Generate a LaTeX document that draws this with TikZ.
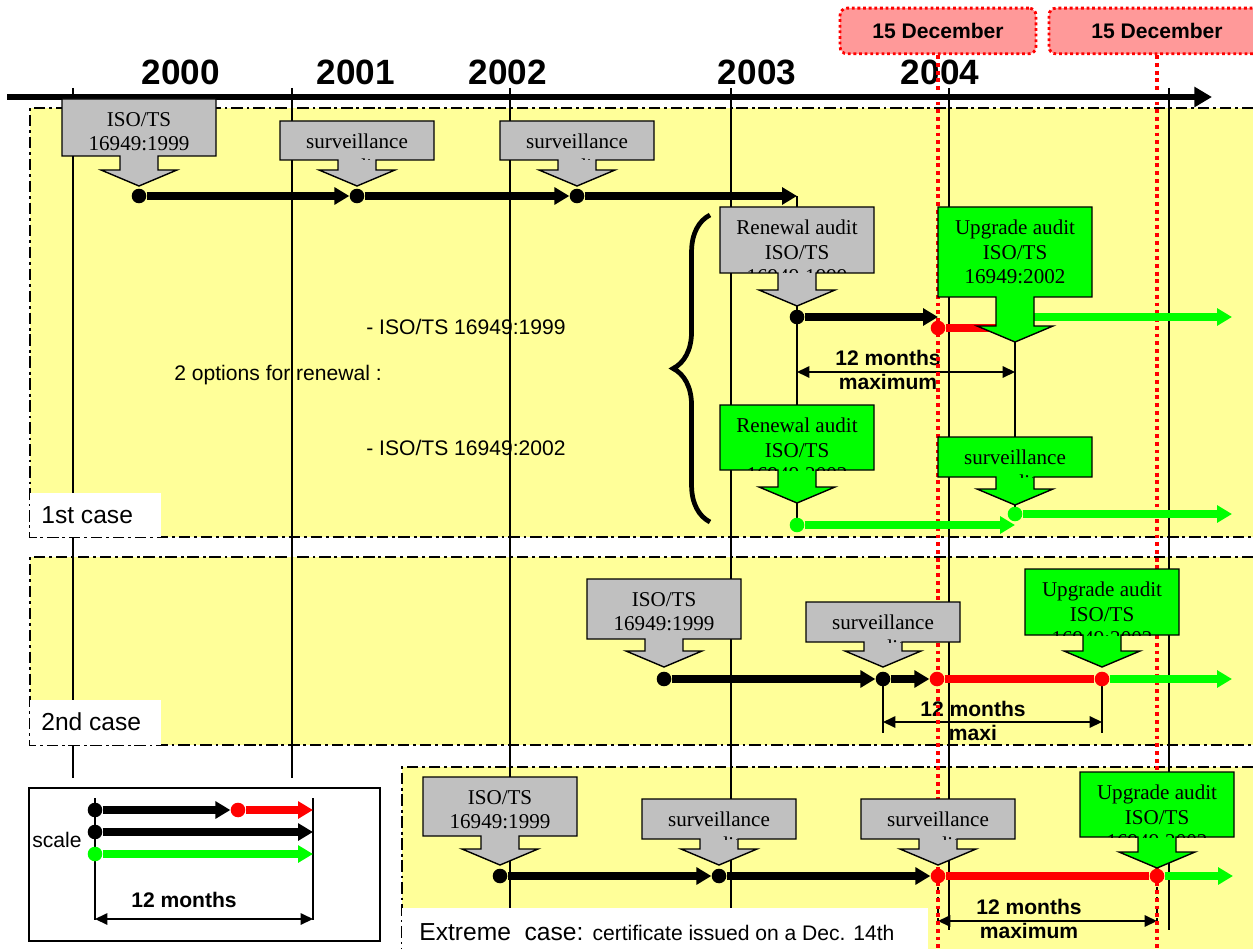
\documentclass[tikz,border=0pt]{standalone}
\usepackage{fontspec}
\setmainfont{Liberation Sans}
\newfontfamily\seriffont{Liberation Serif}
\usetikzlibrary{arrows.meta,decorations.pathreplacing}
\definecolor{panelyellow}{HTML}{FFFF99}
\definecolor{auditgray}{HTML}{C0C0C0}
\definecolor{auditgreen}{HTML}{00FF00}
\definecolor{decpink}{HTML}{FF9999}

\begin{document}
\begin{tikzpicture}[x=0.02cm, y=-0.02cm,
    border/.style={line width=1.1pt, dash pattern=on 6.5pt off 2.2pt on 1.6pt off 2.2pt},
    yearline/.style={line width=0.8pt},
    decline/.style={red, line width=2.2pt, dash pattern=on 2.2pt off 2.2pt},
    prog/.style={line width=4pt, -{Triangle[length=8.5pt,width=9.5pt]}},
    dot/.style={circle, inner sep=0pt, minimum size=8.3pt},
    dim/.style={line width=0.8pt, {Triangle[length=7pt,width=6.5pt]}-{Triangle[length=7pt,width=6.5pt]}},
    audittext/.style={font=\seriffont\fontsize{12}{13.8}\selectfont, align=center, inner sep=0pt},
    calloutline/.style={draw=black, line width=0.8pt},
    yearlabel/.style={font=\fontsize{20}{24}\selectfont\bfseries},
    dimtext/.style={font=\fontsize{12}{13.6}\selectfont\bfseries, align=center},
    plain/.style={font=\fontsize{12}{14}\selectfont, inner sep=0pt},
    casetext/.style={font=\fontsize{14}{16}\selectfont, anchor=west, inner sep=0pt},
    decbox/.style={draw=red, fill=decpink, rounded corners=4pt, line width=1.6pt, dash pattern=on 1.6pt off 1.6pt, minimum height=26pt, font=\fontsize{12}{14}\selectfont\bfseries}]
    \useasboundingbox (0,0) rectangle (1253,949);

    \def\audit#1#2#3#4#5#6#7{%
      \filldraw[calloutline, fill=#2] (#3-77,#4) -- (#3+77,#4) -- (#3+77,#5) -- (#3+19,#5) -- (#3+19,#6-16) -- (#3+38,#6-16) -- (#3,#6) -- (#3-38,#6-16) -- (#3-19,#6-16) -- (#3-19,#5) -- (#3-77,#5) -- cycle;
      \begin{scope}
        \clip (#3-77,#4) rectangle (#3+77,#5);
        \node[audittext, anchor=north] (#1) at (#3,#4+13) {#7};
      \end{scope}}

    \fill[panelyellow] (30,108) rectangle (1253,537);
    \fill[panelyellow] (30,557) rectangle (1253,745);
    \fill[panelyellow] (402,767) rectangle (1253,949);
    \draw[border] (1253,108) -- (30,108) -- (30,537) -- (1253,537);
    \draw[border] (1253,557) -- (30,557) -- (30,745) -- (1253,745);
    \draw[border] (1253,767) -- (402,767) -- (402,949);

    \foreach \xpos/\yend in {73/778, 292/778, 510/930, 731/930, 949/930, 1169/930} {
      \draw[yearline] (\xpos,88) -- (\xpos,\yend);
    }
    \foreach \yr/\xpos in {2000/181, 2001/356, 2002/508, 2003/757, 2004/940} {
      \node[yearlabel] (y\yr) at (\xpos,72) {\yr};
    }

    \node[plain, anchor=west] (opt1999) at (366,327) {- ISO/TS 16949:1999};
    \node[plain, anchor=west] (options) at (174,375) {2 options for renewal :};
    \node[plain, anchor=west] (opt2002) at (366,448) {- ISO/TS 16949:2002};
    \draw[decorate, decoration={brace, amplitude=21pt}, line width=2.7pt] (710,522) -- (710,215);

    \draw[yearline] (797,196) -- (797,525);
    \draw[yearline] (1015,342) -- (1015,514);
    \coordinate (m1a) at (797,372);
    \coordinate (m1b) at (1015,372);
    \draw[dim] (m1a) -- (m1b);
    \node[dimtext] (dim1) at (888,370) {12 months\\maximum};

    \draw[yearline] (883,679) -- (883,733);
    \draw[yearline] (1102,679) -- (1102,733);
    \coordinate (m2a) at (883,722);
    \coordinate (m2b) at (1102,722);
    \draw[dim] (m2a) -- (m2b);
    \node[dimtext] (dim2) at (973,721) {12 months\\maxi};

    \draw[yearline, dashed] (938,876) -- (938,931);
    \draw[yearline, dashed] (1157,876) -- (1157,933);
    \coordinate (m3a) at (938,921);
    \coordinate (m3b) at (1157,921);
    \draw[dim] (m3a) -- (m3b);
    \node[dimtext] (dim3) at (1029,919) {12 months\\maximum};

    \node[decbox, minimum width=111.5pt] (dec1) at (938,31) {15 December};
    \node[decbox, minimum width=123pt] (dec2) at (1157,31) {15 December};
    \coordinate (dec1end) at (938,949);
    \coordinate (dec2end) at (1157,949);
    \draw[decline] (dec1) -- (dec1end);
    \draw[decline] (dec2) -- (dec2end);

    \coordinate (tl0) at (7,97);
    \coordinate (tl1) at (1212,97);
    \draw[line width=3.2pt, -{Triangle[length=10pt,width=11pt]}] (tl0) -- (tl1);

    \node[dot, fill=black] (a1) at (139,196) {};
    \node[dot, fill=black] (a2) at (357,196) {};
    \node[dot, fill=black] (a3) at (577,196) {};
    \coordinate (a4) at (797,196);
    \draw[prog] (a1) -- (a2);
    \draw[prog] (a2) -- (a3);
    \draw[prog] (a3) -- (a4);

    \node[dot, fill=black] (b1) at (797,317) {};
    \node[dot, fill=red] (b2) at (938,328) {};
    \coordinate (b3) at (1015,328);
    \coordinate (b4) at (1015,317);
    \coordinate (b5) at (1232,317);
    \draw[prog] (b1) -- (b1 -| b2);
    \draw[prog, red, -] (b2) -- (b3);
    \draw[prog, auditgreen] (b4) -- (b5);

    \node[dot, fill=auditgreen] (c1) at (797,525) {};
    \node[dot, fill=auditgreen] (c2) at (1015,514) {};
    \coordinate (c3) at (1232,514);
    \draw[prog, auditgreen] (c1) -- (c1 -| c2);
    \draw[prog, auditgreen] (c2) -- (c3);

    \node[dot, fill=black] (k1) at (664,679) {};
    \node[dot, fill=black] (k2) at (883,679) {};
    \node[dot, fill=red] (k3) at (937,679) {};
    \node[dot, fill=red] (k4) at (1102,679) {};
    \coordinate (k5) at (1232,679);
    \draw[prog] (k1) -- (k2);
    \draw[prog] (k2) -- (k3);
    \draw[prog, red, -] (k3) -- (k4);
    \draw[prog, auditgreen] (k4) -- (k5);

    \node[dot, fill=black] (x1) at (500,876) {};
    \node[dot, fill=black] (x2) at (719,876) {};
    \node[dot, fill=red] (x3) at (938,876) {};
    \node[dot, fill=red] (x4) at (1157,876) {};
    \coordinate (x5) at (1233,876);
    \draw[prog] (x1) -- (x2);
    \draw[prog] (x2) -- (x3);
    \draw[prog, red, -] (x3) -- (x4);
    \draw[prog, auditgreen] (x4) -- (x5);

    \audit{iso1}{auditgray}{139}{99}{156}{186}{ISO/TS\\16949:1999}
    \audit{surv1}{auditgray}{357}{121}{160}{186}{surveillance\\audit}
    \audit{surv2}{auditgray}{577}{121}{160}{186}{surveillance\\audit}
    \audit{renew1}{auditgray}{797}{207}{273}{306}{Renewal audit\\ISO/TS\\16949:1999}
    \audit{upgrade1}{auditgreen}{1015}{207}{297}{342}{Upgrade audit\\ISO/TS\\16949:2002}
    \audit{renew2}{auditgreen}{797}{405}{470}{503}{Renewal audit\\ISO/TS\\16949:2002}
    \audit{surv3}{auditgreen}{1015}{437}{477}{505}{surveillance\\audit}
    \audit{iso2}{auditgray}{664}{579}{639}{667}{ISO/TS\\16949:1999}
    \audit{surv4}{auditgray}{883}{602}{642}{667}{surveillance\\audit}
    \audit{upgrade2}{auditgreen}{1102}{569}{635}{667}{Upgrade audit\\ISO/TS\\16949:2002}
    \audit{iso3}{auditgray}{500}{777}{836}{865}{ISO/TS\\16949:1999}
    \audit{surv5}{auditgray}{719}{799}{839}{865}{surveillance\\audit}
    \audit{surv6}{auditgray}{938}{799}{839}{865}{surveillance\\audit}
    \audit{upgrade3}{auditgreen}{1157}{772}{837}{868}{Upgrade audit\\ISO/TS\\16949:2002}

    \fill[white] (30,493) rectangle (161,537);
    \node[casetext] (case1) at (41,515) {1st case};
    \fill[white] (30,700) rectangle (161,745);
    \node[casetext] (case2) at (41,722) {2nd case};
    \fill[white] (402,908) rectangle (928,949);
    \node[casetext] (case3) at (419,932) {Extreme\ \ case: {\fontsize{12}{14}\selectfont certificate issued on a Dec. 14th}};

    \draw[line width=0.9pt, fill=white] (29,788) rectangle (380,941);
    \draw[yearline] (95,798) -- (95,920);
    \draw[yearline] (313,798) -- (313,920);
    \node[dot, fill=black] (s1) at (95,810) {};
    \node[dot, fill=red] (s2) at (238,810) {};
    \coordinate (s3) at (313,810);
    \node[dot, fill=black] (s4) at (95,832) {};
    \coordinate (s5) at (313,832);
    \node[dot, fill=auditgreen] (s6) at (95,854) {};
    \coordinate (s7) at (313,854);
    \draw[prog] (s1) -- (s2);
    \draw[prog, red] (s2) -- (s3);
    \draw[prog] (s4) -- (s5);
    \draw[prog, auditgreen] (s6) -- (s7);
    \node[plain, anchor=west] (scalelabel) at (32,840) {scale};
    \node[dimtext] (dim0) at (184,900) {12 months};
    \coordinate (m0a) at (95,919);
    \coordinate (m0b) at (313,919);
    \draw[dim] (m0a) -- (m0b);
\end{tikzpicture}
\end{document}
